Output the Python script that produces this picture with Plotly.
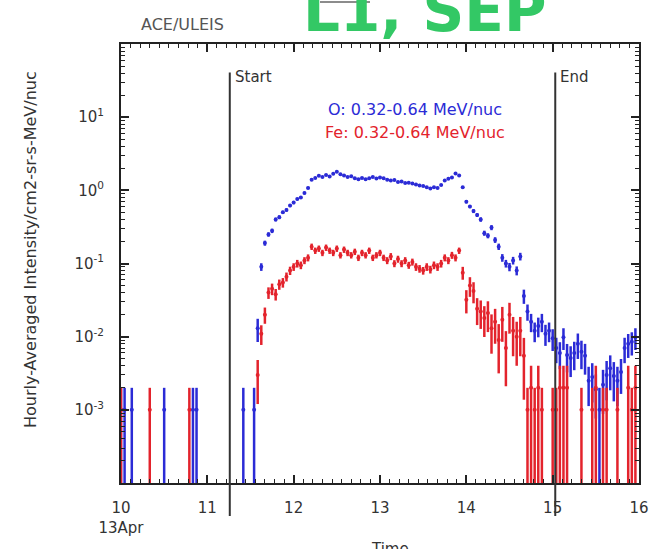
import plotly.graph_objects as go

# ACE/ULEIS hourly-averaged intensities, 13 Apr (day 10) to day 16.
# Hours are counted from the start of day 10.
o_hour = [0, 1, 3, 12, 20, 21, 34, 37,
          38, 39, 40, 41, 42, 43, 44, 45, 46, 47, 48, 49, 50, 51, 52, 53,
          54, 55, 56, 57, 58, 59, 60, 61, 62, 63, 64, 65, 66, 67, 68, 69,
          70, 71, 72, 73, 74, 75, 76, 77, 78, 79, 80, 81, 82, 83, 84, 85,
          86, 87, 88, 89, 90, 91, 92, 93, 94, 95, 96, 97, 98, 99, 100, 101,
          102, 103, 104, 105, 106, 107, 108, 109, 110, 111, 112, 113, 114, 115,
          116, 117, 118, 119, 120, 121, 122, 123, 124, 125, 126, 127, 128, 129,
          130, 131, 132, 133, 134, 135, 136, 137, 138, 139, 140, 141, 142, 143]
o_flux = [0.001, 0.001, 0.001, 0.001, 0.001, 0.001, 0.001, 0.001,
          0.013, 0.09, 0.19, 0.25, 0.28, 0.40, 0.43, 0.50, 0.54, 0.62, 0.68, 0.76, 0.80, 0.92, 1.08, 1.40,
          1.48, 1.58, 1.52, 1.62, 1.55, 1.68, 1.80, 1.66, 1.60, 1.52, 1.56, 1.46, 1.42, 1.47, 1.42, 1.46,
          1.52, 1.45, 1.50, 1.46, 1.40, 1.36, 1.38, 1.30, 1.32, 1.26, 1.27, 1.24, 1.20, 1.16, 1.15, 1.10,
          1.06, 1.10, 1.08, 1.18, 1.36, 1.44, 1.50, 1.70, 1.60, 1.10, 0.70, 0.60, 0.52, 0.46, 0.40, 0.26,
          0.24, 0.31, 0.21, 0.17, 0.12, 0.10, 0.09, 0.11, 0.08, 0.125, 0.036, 0.022, 0.016, 0.012,
          0.014, 0.016, 0.011, 0.012, 0.0095, 0.007, 0.006, 0.0098, 0.0056, 0.0051, 0.006, 0.008, 0.0062, 0.0055,
          0.0025, 0.0028, 0.0019, 0.001, 0.0022, 0.003, 0.0037, 0.0029, 0.0025, 0.0033, 0.007, 0.008, 0.0085, 0.0098]
o_rel_err = [1.0, 1.0, 1.0, 1.0, 1.0, 1.0, 1.0, 1.0,
             0.35, 0.12, 0.08, 0.07, 0.07, 0.06, 0.06, 0.05, 0.05, 0.05, 0.05, 0.04, 0.04, 0.04, 0.04, 0.04,
             0.03, 0.03, 0.03, 0.03, 0.03, 0.03, 0.03, 0.03, 0.03, 0.03, 0.03, 0.03, 0.03, 0.03, 0.03, 0.03,
             0.03, 0.03, 0.03, 0.03, 0.03, 0.03, 0.03, 0.03, 0.03, 0.03, 0.03, 0.03, 0.03, 0.03, 0.03, 0.03,
             0.03, 0.03, 0.03, 0.03, 0.03, 0.03, 0.03, 0.03, 0.03, 0.04, 0.05, 0.05, 0.06, 0.06, 0.07, 0.08,
             0.08, 0.08, 0.09, 0.10, 0.12, 0.12, 0.13, 0.12, 0.14, 0.12, 0.22, 0.25, 0.28, 0.30,
             0.30, 0.28, 0.32, 0.30, 0.33, 0.38, 0.40, 0.33, 0.42, 0.45, 0.42, 0.38, 0.42, 0.45,
             0.55, 0.55, 0.60, 1.0, 0.60, 0.55, 0.50, 0.55, 0.55, 0.50, 0.38, 0.36, 0.35, 0.33]

fe_hour = [0, 8, 19,
           38, 39, 40, 41, 42, 43, 44, 45, 46, 47, 48, 49, 50, 51, 52, 53,
           54, 55, 56, 57, 58, 59, 60, 61, 62, 63, 64, 65, 66, 67, 68, 69,
           70, 71, 72, 73, 74, 75, 76, 77, 78, 79, 80, 81, 82, 83, 84, 85,
           86, 87, 88, 89, 90, 91, 92, 93, 94, 95, 96, 97, 98, 99, 100, 101,
           102, 103, 104, 105, 106, 107, 108, 109, 110, 111, 112, 113, 114, 115,
           116, 117, 120, 121, 122, 123, 124, 128, 131, 132, 134, 135, 138, 141, 142, 143]
fe_flux = [0.001, 0.001, 0.001,
           0.003, 0.011, 0.020, 0.040, 0.045, 0.038, 0.052, 0.055, 0.066, 0.080, 0.090, 0.10, 0.095, 0.11, 0.12, 0.17,
           0.15, 0.16, 0.14, 0.165, 0.15, 0.14, 0.16, 0.13, 0.155, 0.14, 0.13, 0.145, 0.12, 0.14, 0.13, 0.15,
           0.12, 0.13, 0.14, 0.12, 0.11, 0.125, 0.10, 0.115, 0.10, 0.11, 0.095, 0.105, 0.09, 0.085, 0.08, 0.09,
           0.083, 0.095, 0.09, 0.10, 0.12, 0.11, 0.13, 0.12, 0.15, 0.075, 0.032, 0.05, 0.042, 0.024, 0.022, 0.018,
           0.021, 0.013, 0.016, 0.009, 0.017, 0.007, 0.020, 0.012, 0.010, 0.012, 0.0055, 0.001, 0.002, 0.001,
           0.002, 0.001, 0.001, 0.001, 0.002, 0.002, 0.002, 0.001, 0.001, 0.002, 0.001, 0.001, 0.001, 0.002, 0.001, 0.002]
fe_rel_err = [1.0, 1.0, 1.0,
              0.6, 0.3, 0.25, 0.18, 0.18, 0.18, 0.16, 0.15, 0.14, 0.13, 0.12, 0.12, 0.12, 0.11, 0.11, 0.10,
              0.10, 0.10, 0.10, 0.10, 0.10, 0.10, 0.10, 0.10, 0.10, 0.10, 0.10, 0.10, 0.10, 0.10, 0.10, 0.10,
              0.10, 0.10, 0.10, 0.10, 0.11, 0.11, 0.11, 0.11, 0.11, 0.11, 0.11, 0.11, 0.12, 0.12, 0.12, 0.12,
              0.12, 0.12, 0.12, 0.12, 0.11, 0.11, 0.11, 0.11, 0.10, 0.20, 0.35, 0.30, 0.32, 0.40, 0.42, 0.45,
              0.45, 0.55, 0.50, 0.65, 0.50, 0.70, 0.45, 0.55, 0.60, 0.55, 0.75, 1.0, 1.0, 1.0,
              1.0, 1.0, 1.0, 1.0, 1.0, 1.0, 1.0, 1.0, 1.0, 1.0, 1.0, 1.0, 1.0, 1.0, 1.0, 1.0]

event_start = 11.26
event_end = 15.03

y_tick_vals = [1e-3, 1e-2, 1e-1, 1e0, 1e1]
y_tick_text = ["10<sup>-3</sup>", "10<sup>-2</sup>", "10<sup>-1</sup>",
               "10<sup>0</sup>", "10<sup>1</sup>"]
x_tick_vals = [10, 11, 12, 13, 14, 15, 16]
x_tick_text = ["10<br>13Apr", "11", "12", "13", "14", "15", "16"]

BLUE = "#2b2bd6"
RED = "#e3232c"
INK = "#333333"
FONT = "DejaVu Sans"
FLOOR = 1e-6  # lower error bound for single-count hours (runs off the axis)


def to_day(hours):
    return [10 + h / 24.0 for h in hours]


def err_bars(values, rel):
    plus = [v * r for v, r in zip(values, rel)]
    minus = [v - max(v * (1 - r), FLOOR) for v, r in zip(values, rel)]
    return plus, minus


fig = go.Figure()

for hours, flux, rel, color, name in [
    (o_hour, o_flux, o_rel_err, BLUE, "O"),
    (fe_hour, fe_flux, fe_rel_err, RED, "Fe"),
]:
    plus, minus = err_bars(flux, rel)
    fig.add_trace(go.Scatter(
        x=to_day(hours), y=flux, mode="markers", name=name,
        marker=dict(color=color, size=4, symbol="circle"),
        error_y=dict(type="data", array=plus, arrayminus=minus, symmetric=False,
                     color=color, thickness=2.5, width=0),
        showlegend=False,
    ))

# Start / End markers extend below the time axis
for xv in (event_start, event_end):
    fig.add_shape(type="line", xref="x", yref="paper", x0=xv, x1=xv,
                  y0=-0.075, y1=0.935, line=dict(color=INK, width=2), layer="above")

annotations = [
    dict(text="Start", x=event_start, y=0.925, xanchor="left", xshift=3,
         font=dict(size=15, color=INK)),
    dict(text="End", x=event_end, y=0.925, xanchor="left", xshift=3,
         font=dict(size=15, color=INK)),
]
for a in annotations:
    a.update(xref="x", yref="paper", showarrow=False, yanchor="middle")

annotations += [
    dict(text="O: 0.32-0.64 MeV/nuc", x=0.567, y=0.8497, xref="paper", yref="paper",
         xanchor="center", yanchor="middle",
         showarrow=False, font=dict(size=16, color=BLUE)),
    dict(text="Fe: 0.32-0.64 MeV/nuc", x=0.567, y=0.7995, xref="paper", yref="paper",
         xanchor="center", yanchor="middle",
         showarrow=False, font=dict(size=16, color=RED)),
    dict(text="ACE/ULEIS", x=0.034, y=1.0706, xref="paper", yref="paper",
         xanchor="left", yanchor="top",
         showarrow=False, font=dict(size=16, color="#555555")),
    dict(text="<b>L1, SEP</b>", x=0.585, y=1.157, xref="paper", yref="paper",
         xanchor="center", yanchor="top",
         showarrow=False, font=dict(size=58, color="#33c865", family=FONT)),
    dict(text="Time", x=0.52, y=-0.125, xref="paper", yref="paper",
         xanchor="center", yanchor="top",
         showarrow=False, font=dict(size=15, color=INK)),
    dict(text="Hourly-Averaged Intensity/cm2-sr-s-MeV/nuc", x=-0.1757, y=0.533,
         xref="paper", yref="paper", xanchor="center", yanchor="middle",
         textangle=-90, showarrow=False, font=dict(size=16, color=INK)),
]

# short rule at the very top of the page
fig.add_shape(type="line", xref="paper", yref="paper", x0=(320 - 121) / 518,
              x1=(370 - 121) / 518, y0=(483 - 2) / 439, y1=(483 - 2) / 439,
              line=dict(color="#666666", width=1.5))

axis_common = dict(
    showline=True, linecolor="#222222", linewidth=2, mirror="ticks",
    ticks="inside", tickcolor="#222222", tickwidth=1.5, ticklen=8,
    showgrid=False, zeroline=False, automargin=False,
    tickfont=dict(size=15, color=INK, family=FONT),
)

fig.update_layout(
    width=651, height=549,
    margin=dict(l=121, r=12, t=44, b=66),
    paper_bgcolor="white", plot_bgcolor="white",
    font=dict(family=FONT, color=INK),
    annotations=annotations,
    xaxis=dict(
        range=[10, 16], tickvals=x_tick_vals, ticktext=x_tick_text,
        ticklabelstandoff=10,
        minor=dict(ticks="inside", ticklen=4, dtick=1 / 9, tick0=10,
                   tickcolor="#222222", tickwidth=1.2),
        **axis_common,
    ),
    yaxis=dict(
        type="log", range=[-4, 2], tickvals=y_tick_vals, ticktext=y_tick_text,
        ticklabelstandoff=12,
        minor=dict(ticks="inside", ticklen=4, dtick="D1",
                   tickcolor="#222222", tickwidth=1.2),
        **axis_common,
    ),
)

fig.write_html("out.html")
